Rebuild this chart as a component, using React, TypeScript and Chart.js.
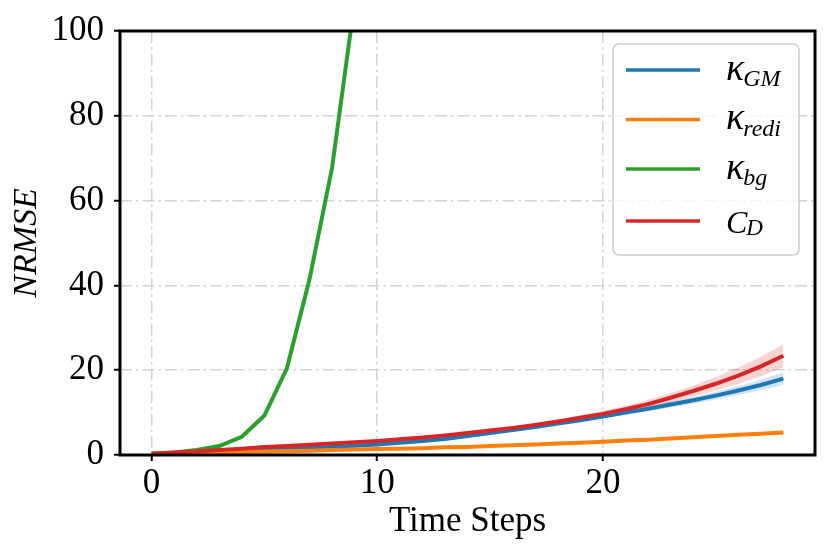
import React, { useEffect, useRef } from "react";
import { Chart, registerables } from "chart.js";

Chart.register(...registerables);

const steps = [0,1,2,3,4,5,6,7,8,9,10,11,12,13,14,15,16,17,18,19,20,21,22,23,24,25,26,27,28];
const kGM = [0.3,0.5,0.7,0.9,1.1,1.3,1.5,1.7,1.9,2.2,2.5,2.9,3.3,3.8,4.5,5.2,5.9,6.6,7.4,8.2,9.1,10.0,10.9,11.9,12.9,14.0,15.2,16.5,18.0];
const kRedi = [0.3,0.4,0.5,0.6,0.7,0.8,0.9,1.0,1.2,1.3,1.4,1.5,1.6,1.8,1.9,2.1,2.3,2.5,2.7,2.9,3.1,3.4,3.6,3.9,4.2,4.5,4.8,5.0,5.3];
const kBg = [0.3,0.6,1.2,2.1,4.3,9.3,20.5,41.5,67.8,107];
const cD = [0.3,0.6,0.9,1.2,1.5,1.9,2.1,2.4,2.7,3.0,3.3,3.7,4.1,4.6,5.2,5.8,6.4,7.1,7.9,8.8,9.7,10.8,12.0,13.5,15.1,16.8,18.7,20.9,23.4];
const kGMSpread = [0.05,0.05,0.05,0.05,0.05,0.1,0.1,0.1,0.1,0.1,0.1,0.15,0.15,0.2,0.2,0.25,0.3,0.3,0.35,0.4,0.45,0.5,0.6,0.7,0.8,0.9,1.05,1.25,1.5];
const kRediSpread = [0.05,0.05,0.05,0.05,0.05,0.05,0.05,0.05,0.05,0.05,0.1,0.1,0.1,0.1,0.1,0.1,0.15,0.15,0.15,0.15,0.2,0.2,0.2,0.25,0.25,0.3,0.3,0.35,0.4];
const cDSpread = [0.05,0.05,0.05,0.05,0.1,0.1,0.1,0.1,0.1,0.1,0.15,0.15,0.2,0.2,0.25,0.3,0.35,0.4,0.5,0.55,0.65,0.8,0.95,1.1,1.3,1.6,1.9,2.3,2.7];
const xTicks = [0, 10, 20];
const yTicks = [0, 20, 40, 60, 80, 100];
const seriesNames = [
  { main: "κ", sub: "GM" },
  { main: "κ", sub: "redi" },
  { main: "κ", sub: "bg" },
  { main: "C", sub: "D" },
];
const colors = ["#1f77b4", "#ff7f0e", "#2ca02c", "#d62728"];
const bandColors = ["rgba(31,119,180,0.2)", "rgba(255,127,14,0.2)", "rgba(44,160,44,0.2)", "rgba(214,39,40,0.2)"];

const FONT = '"Liberation Serif", "DejaVu Serif", serif';

const pts = (ys: number[], add?: number[], sign = 0) =>
  ys.map((y, i) => ({ x: steps[i], y: add ? y + sign * add[i] : y }));

const legendPlugin = {
  id: "customLegend",
  afterDraw(chart: any) {
    const ctx = chart.ctx;
    const { left, right, top, bottom } = chart.chartArea;
    ctx.save();
    ctx.strokeStyle = "#000";
    ctx.lineWidth = 3;
    ctx.setLineDash([]);
    ctx.strokeRect(left, top, right - left, bottom - top);
    const bx = 613, by = 44, bw = 186, bh = 211, r = 6;
    ctx.beginPath();
    ctx.moveTo(bx + r, by);
    ctx.arcTo(bx + bw, by, bx + bw, by + bh, r);
    ctx.arcTo(bx + bw, by + bh, bx, by + bh, r);
    ctx.arcTo(bx, by + bh, bx, by, r);
    ctx.arcTo(bx, by, bx + bw, by, r);
    ctx.closePath();
    ctx.fillStyle = "rgba(255,255,255,0.8)";
    ctx.fill();
    ctx.strokeStyle = "#cccccc";
    ctx.lineWidth = 1.5;
    ctx.stroke();
    const rows = [70, 119.5, 169, 221];
    seriesNames.forEach((s, i) => {
      const y = rows[i];
      ctx.strokeStyle = colors[i];
      ctx.lineWidth = 3.5;
      ctx.beginPath();
      ctx.moveTo(626, y);
      ctx.lineTo(700, y);
      ctx.stroke();
      const isC = s.main === "C";
      const mainSize = isC ? 32 : 38;
      const subSize = isC ? 23 : 24;
      ctx.fillStyle = "#000";
      ctx.textBaseline = "alphabetic";
      ctx.textAlign = "left";
      ctx.font = `italic ${mainSize}px ${FONT}`;
      const mx = 726;
      ctx.fillText(s.main, mx, y + (isC ? 11.5 : 9.5));
      const w = ctx.measureText(s.main).width;
      ctx.font = `italic ${subSize}px ${FONT}`;
      ctx.fillText(s.sub, mx + w - 1, y + (isC ? 14 : 16));
    });
    ctx.restore();
  },
};

export default function App() {
  const ref = useRef<HTMLCanvasElement>(null);
  useEffect(() => {
    document.body.style.margin = "0";
    const lineDs = (data: number[], i: number, order: number) => ({
      data: pts(data),
      borderColor: colors[i],
      backgroundColor: colors[i],
      borderWidth: 4,
      pointRadius: 0,
      fill: false,
      tension: 0,
      order,
    });
    const bandDs = (data: number[], spread: number[], i: number, order: number) => [
      {
        data: pts(data, spread, 1),
        borderWidth: 0,
        pointRadius: 0,
        backgroundColor: bandColors[i],
        fill: "+1",
        order,
      },
      {
        data: pts(data, spread, -1),
        borderWidth: 0,
        pointRadius: 0,
        backgroundColor: bandColors[i],
        fill: false,
        order,
      },
    ];
    const chart = new Chart(ref.current!, {
      type: "line",
      data: {
        datasets: [
          ...bandDs(kGM, kGMSpread, 0, 20),
          ...bandDs(kRedi, kRediSpread, 1, 21),
          ...bandDs(cD, cDSpread, 3, 19),
          lineDs(kGM, 0, 4),
          lineDs(kRedi, 1, 3),
          lineDs(kBg, 2, 2),
          lineDs(cD, 3, 1),
        ] as any,
      },
      options: {
        animation: false,
        responsive: false,
        devicePixelRatio: 1,
        layout: { padding: { left: 0, right: 15, top: 25, bottom: 0 } },
        plugins: { legend: { display: false }, tooltip: { enabled: false } },
        scales: {
          x: {
            type: "linear",
            min: -1.4,
            max: 29.4,
            afterBuildTicks: (s: any) => { s.ticks = xTicks.map((v) => ({ value: v })); },
            afterFit: (s: any) => { s.height = 100; },
            ticks: { color: "#000", font: { size: 35, family: FONT }, padding: 2, maxRotation: 0 },
            grid: { color: "#d3d3d3", lineWidth: 1.5, tickColor: "#000", tickLength: 6, tickWidth: 2, tickBorderDash: [] },
            border: { display: false, dash: [12, 4, 2.5, 4] },
            title: { display: true, text: "Time Steps", color: "#000", font: { size: 35, family: FONT }, padding: { top: 0, bottom: 12 } },
          },
          y: {
            type: "linear",
            min: 0,
            max: 100,
            afterBuildTicks: (s: any) => { s.ticks = yTicks.map((v) => ({ value: v })); },
            afterFit: (s: any) => { s.width = 120; },
            ticks: { color: "#000", font: { size: 35, family: FONT }, padding: 10 },
            grid: { color: "#d3d3d3", lineWidth: 1.5, tickColor: "#000", tickLength: 6, tickWidth: 2, tickBorderDash: [] },
            border: { display: false, dash: [12, 4, 2.5, 4] },
            title: { display: true, text: "NRMSE", color: "#000", font: { size: 34, family: FONT, style: "italic" }, padding: { top: 7, bottom: 0 } },
          },
        },
      } as any,
      plugins: [legendPlugin],
    });
    return () => chart.destroy();
  }, []);
  return <canvas ref={ref} width={830} height={555} style={{ display: "block" }} />;
}
